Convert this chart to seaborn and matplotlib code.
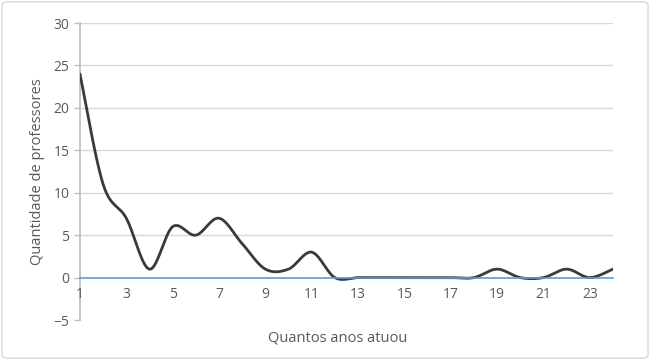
import numpy as np
import pandas as pd
import matplotlib
matplotlib.use("Agg")
import matplotlib.pyplot as plt
import seaborn as sns
from matplotlib.patches import FancyBboxPatch

# values
anos = list(range(1, 25))
professores = [24, 11, 7, 1, 6, 5, 7, 4, 1, 1, 3, 0,
               0, 0, 0, 0, 0, 0, 1, 0, 0, 1, 0, 1]
xticks = list(range(1, 24, 2))
yticks = [-5, 0, 5, 10, 15, 20, 25, 30]


def smooth(x, y, n=30):
    # Excel-like smoothed line (Catmull-Rom style bezier, tension 1/6)
    x = np.asarray(x, float)
    y = np.asarray(y, float)
    px = np.concatenate([[x[0]], x, [x[-1]]])
    py = np.concatenate([[y[0]], y, [y[-1]]])
    xs, ys = [], []
    t = np.linspace(0, 1, n, endpoint=False)
    for i in range(1, len(px) - 2):
        p0 = np.array([px[i], py[i]])
        p3 = np.array([px[i + 1], py[i + 1]])
        p1 = p0 + (np.array([px[i + 1], py[i + 1]]) - np.array([px[i - 1], py[i - 1]])) / 6
        p2 = p3 - (np.array([px[i + 2], py[i + 2]]) - np.array([px[i], py[i]])) / 6
        b = ((1 - t) ** 3)[:, None] * p0 + (3 * (1 - t) ** 2 * t)[:, None] * p1 \
            + (3 * (1 - t) * t ** 2)[:, None] * p2 + (t ** 3)[:, None] * p3
        xs.extend(b[:, 0])
        ys.extend(b[:, 1])
    xs.append(x[-1])
    ys.append(y[-1])
    return pd.DataFrame({"anos": xs, "professores": ys})


df = smooth(anos, professores)

sns.set_theme(style="white")
plt.rcParams["font.family"] = ["Open Sans", "DejaVu Sans"]
txt = "#595959"

fig = plt.figure(figsize=(6.5, 3.6), dpi=100)
ax = fig.add_axes([0.123, 0.111, 0.82, 0.825])

sns.lineplot(data=df, x="anos", y="professores", ax=ax, color="#3a3a3a",
             linewidth=2, sort=False, estimator=None)

ax.set_xlim(1, 24)
ax.set_ylim(-5, 30)
ax.set_yticks(yticks)
ax.set_xticks(xticks)
ax.set_xticklabels([str(v) for v in xticks])
for yv in yticks[2:]:
    ax.axhline(yv, color="#d9d9d9", linewidth=1, zorder=0)

for s in ["top", "right"]:
    ax.spines[s].set_visible(False)
ax.spines["left"].set_color("#bfbfbf")
ax.spines["left"].set_zorder(0.5)
ax.spines["bottom"].set_position(("data", 0))
ax.spines["bottom"].set_color("#5b9bd5")
ax.spines["bottom"].set_linewidth(1.2)
ax.tick_params(axis="x", colors="#5b9bd5", length=4, width=1, direction="out",
               labelcolor=txt, labelsize=10, pad=3)
ax.tick_params(axis="y", colors="#bfbfbf", length=4, width=1, labelcolor=txt,
               labelsize=10, left=True)

ax.set_xlabel("")
ax.set_ylabel("Quantidade de professores", color=txt, fontsize=10.5, labelpad=6)
fig.text(0.52, 0.061, "Quantos anos atuou", color=txt, fontsize=10.5,
         ha="center", va="center")

border = FancyBboxPatch((0.003, 0.005), 0.994, 0.99, boxstyle="round,pad=0,rounding_size=0.01",
                        transform=fig.transFigure, fill=False, edgecolor="#d9d9d9",
                        linewidth=1)
fig.patches.append(border)

fig.savefig("out.png", dpi=100)
